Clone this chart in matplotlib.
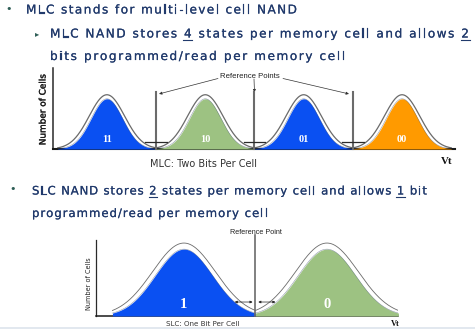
import matplotlib
matplotlib.use("Agg")
import matplotlib.pyplot as plt
import matplotlib.patheffects as pe
import numpy as np
from matplotlib.font_manager import FontProperties
from matplotlib.patches import Rectangle

W, H = 475, 329

# ---- slide text ---------------------------------------------------------
mlc_bullet = "MLC stands for multi-level cell NAND"
mlc_sub_1 = "MLC NAND stores 4 states per memory cell and allows 2"
mlc_sub_2 = "bits programmed/read per memory cell"
slc_line_1 = "SLC NAND stores 2 states per memory cell and allows 1 bit"
slc_line_2 = "programmed/read per memory cell"

# ---- MLC threshold-voltage distributions ---------------------------------
mlc_states = ["11", "10", "01", "00"]
mlc_centers = [1.0, 2.0, 3.0, 4.0]
mlc_heights = [0.62, 0.62, 0.62, 0.62]
mlc_sigma = [0.16, 0.16, 0.16, 0.16]
mlc_colors = ["#0a50f2", "#9dc282", "#0a50f2", "#ff9a00"]
mlc_refs = [1.5, 2.5, 3.5]

# ---- SLC threshold-voltage distributions ---------------------------------
slc_states = ["1", "0"]
slc_centers = [1.0, 2.0]
slc_heights = [0.88, 0.88]
slc_sigma = [0.20, 0.20]
slc_colors = ["#0a50f2", "#9dc282"]
slc_refs = [1.5]

TEXT = "#213a6c"
BULLET = "#2d5d55"

fig = plt.figure(figsize=(W / 100, H / 100), dpi=100)
fig.patch.set_facecolor("white")

# full-page layer in pixel units for the slide text
bg = fig.add_axes([0, 0, 1, 1], zorder=0)
bg.set_xlim(0, W)
bg.set_ylim(H, 0)
bg.axis("off")
bg.add_patch(Rectangle((0, 326.5), W, 3, color="#e2e8ef", lw=0))

renderer = fig.canvas.get_renderer()
thicken = [pe.withStroke(linewidth=0.12, foreground=TEXT)]


def spaced_text(x0, x1, y, s, size, color, underline=()):
    fp = FontProperties(family="DejaVu Sans", size=size)
    sp = (renderer.get_text_width_height_descent("a a", fp, ismath=False)[0]
          - renderer.get_text_width_height_descent("aa", fp, ismath=False)[0])
    widths = []
    for ch in s:
        if ch == " ":
            widths.append(sp)
        else:
            widths.append(renderer.get_text_width_height_descent(ch, fp, ismath=False)[0])
    track = (x1 - x0 - sum(widths)) / (len(s) - 1)
    x = x0
    for i, (ch, w) in enumerate(zip(s, widths)):
        if ch != " ":
            bg.text(x, y, ch, fontproperties=fp, color=color, ha="left", va="baseline",
                    path_effects=thicken)
        if i in underline:
            bg.plot([x - 0.5, x + w + 0.5], [y + 2.6, y + 2.6], color=color, lw=0.8)
        x += w + track


bg.text(9, 9.5, "•", color=BULLET, fontsize=8, ha="center", va="center")
spaced_text(26, 297, 13.5, mlc_bullet, 8.7, TEXT)
bg.text(37.5, 33.5, "▸", color=BULLET, fontsize=6, ha="center", va="center")
spaced_text(50, 469, 37.5, mlc_sub_1, 8.7, TEXT,
            underline=(mlc_sub_1.index("4"), len(mlc_sub_1) - 1))
spaced_text(50, 345, 60, mlc_sub_2, 8.7, TEXT)

bg.text(13, 189.5, "•", color=BULLET, fontsize=8, ha="center", va="center")
spaced_text(32, 427, 194.5, slc_line_1, 8.4, TEXT,
            underline=(slc_line_1.index("2"), slc_line_1.index("1 bit")))
spaced_text(32, 268, 217, slc_line_2, 8.4, TEXT)


def chart(left, top, right, bottom, xlim, lw_left, lw_bottom):
    ax = fig.add_axes([left / W, 1 - bottom / H, (right - left) / W, (bottom - top) / H], zorder=1)
    ax.set_xlim(*xlim)
    ax.set_ylim(0, 1)
    ax.patch.set_alpha(0)
    ax.spines["top"].set_visible(False)
    ax.spines["right"].set_visible(False)
    ax.spines["left"].set_color("#2a2a2a")
    ax.spines["bottom"].set_color("#1a1a1a")
    ax.spines["left"].set_linewidth(lw_left)
    ax.spines["bottom"].set_linewidth(lw_bottom)
    ax.set_xticks([])
    ax.set_yticks([])
    return ax


def distribution(ax, c, h, s, color, span, out_h, out_s, out_lw):
    xs = np.linspace(c - span, c + span, 300)
    inner = h * np.exp(-0.5 * ((xs - c) / s) ** 2)
    outer = out_h * np.exp(-0.5 * ((xs - c) / out_s) ** 2)
    ax.plot(xs, outer, color="#6a6a6a", lw=out_lw, zorder=2)
    ax.fill_between(xs, 0, inner, color=color, lw=0, zorder=3)
    ax.plot(xs, inner, color="#3a4a6a", lw=0.35, alpha=0.6, zorder=3)


# ---- MLC chart -----------------------------------------------------------
mlc = chart(53, 68, 455, 149, (0.452, 4.538), 1.1, 1.5)
for st, c, h, s, col in zip(mlc_states, mlc_centers, mlc_heights, mlc_sigma, mlc_colors):
    distribution(mlc, c, h, s, col, 0.5, h + 0.05, s + 0.02, 0.9)
    mlc.text(c, 0.115, st, color="white", fontweight="bold", family="Liberation Serif",
             fontsize=7.5, ha="center", va="center", zorder=4)
for r in mlc_refs:
    mlc.plot([r, r], [0, 0.70], color="#6b6b6b", lw=1.5, zorder=5, clip_on=False)
    mlc.plot([r - 0.11, r + 0.11], [0.086, 0.086], color="#2a2a2a", lw=0.9, zorder=5)

bg.text(250, 77.5, "Reference Points", family="Liberation Sans", fontsize=5.6,
        color="#222222", ha="center", va="baseline")
for r, start, tip in zip(mlc_refs, [(218, 78.5), (254, 79), (283, 78.5)],
                         [(0.03, -0.02), (0.0, 0.0), (-0.04, -0.02)]):
    bg.annotate("", xy=(r + tip[0], 0.70 + tip[1]), xycoords=mlc.transData,
                xytext=start, textcoords="data",
                arrowprops=dict(arrowstyle="-|>", lw=0.5, color="#333333",
                                mutation_scale=4, shrinkA=0, shrinkB=0))

bg.text(43, 109.5, "Number of Cells", fontsize=6.4, color="#1a1a1a", rotation=90,
        ha="center", va="center",
        path_effects=[pe.withStroke(linewidth=0.2, foreground="#1a1a1a")])
bg.text(203, 167, "MLC: Two Bits Per Cell", fontsize=7, color="#333333",
        ha="center", va="baseline")
bg.text(447, 164, "Vt", family="Liberation Serif", fontweight="bold", fontsize=7.8,
        color="#111111", ha="center", va="baseline")

# ---- SLC chart -----------------------------------------------------------
slc = chart(96, 240, 398, 316, (0.385, 2.497), 0.9, 1.1)
for st, c, h, s, col in zip(slc_states, slc_centers, slc_heights, slc_sigma, slc_colors):
    distribution(slc, c, h, s, col, 0.5, h + 0.08, s + 0.02, 0.6)
    slc.text(c, 0.15, st, color="white", fontweight="bold", family="Liberation Serif",
             fontsize=10.5, ha="center", va="center", zorder=4)
for r in slc_refs:
    slc.plot([r, r], [0, 1.07], color="#6b6b6b", lw=1.2, zorder=5, clip_on=False)
    for a, b in [(r - 0.145, r - 0.02), (r + 0.02, r + 0.14)]:
        slc.annotate("", xy=(a, 0.184), xytext=(b, 0.184),
                     arrowprops=dict(arrowstyle="<|-|>", lw=0.5, color="#222222",
                                     mutation_scale=3.5, shrinkA=0, shrinkB=0), zorder=6)

bg.text(255.5, 234, "Reference Point", family="Liberation Sans", fontsize=5.2,
        color="#222222", ha="center", va="baseline")
bg.text(89, 284, "Number of Cells", fontsize=4.7, color="#222222", rotation=90,
        ha="center", va="center")
bg.text(202.5, 326, "SLC: One Bit Per Cell", fontsize=5.1, color="#333333",
        ha="center", va="baseline")
bg.text(395.5, 326, "Vt", family="Liberation Serif", fontweight="bold", fontsize=6,
        color="#111111", ha="center", va="baseline")

fig.savefig("out.png", dpi=100, facecolor="white")
